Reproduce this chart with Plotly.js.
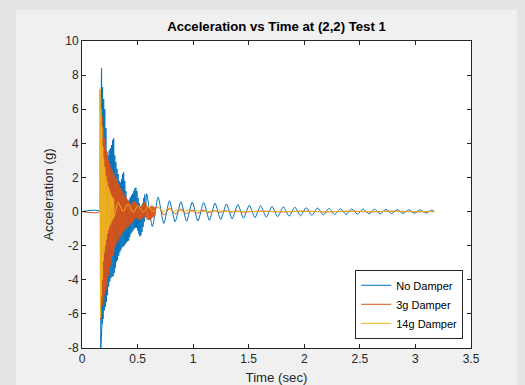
<!DOCTYPE html>
<html>
<head>
<meta charset="utf-8">
<script src="https://cdn.plot.ly/plotly-3.0.1.min.js"></script>
<style>
html,body{margin:0;padding:0;background:#f0f0f0;}
#chart{width:525px;height:385px;}
</style>
</head>
<body>
<div id="chart"></div>
<script>
// ---- Data ----
const seriesNames = ["No Damper", "3g Damper", "14g Damper"];

// No Damper: time (sec)
const tNoDamper = [
  0.000, 0.165, 0.168, 0.172, 0.176, 0.180, 0.185, 0.190, 0.195, 0.200,
  0.205, 0.210, 0.215, 0.220, 0.225, 0.230, 0.235, 0.240, 0.245, 0.250,
  0.255, 0.260, 0.265, 0.270, 0.275, 0.280, 0.285, 0.290, 0.295, 0.300,
  0.305, 0.310, 0.315, 0.320, 0.325, 0.330, 0.335, 0.340, 0.345, 0.350,
  0.355, 0.360, 0.365, 0.370, 0.375, 0.380, 0.385, 0.390, 0.395, 0.400,
  0.405, 0.410, 0.415, 0.420, 0.425, 0.430, 0.435, 0.440, 0.445, 0.450,
  0.455, 0.460, 0.465, 0.470, 0.475, 0.480, 0.485, 0.490, 0.495, 0.500,
  0.505, 0.510, 0.515, 0.520, 0.525, 0.530, 0.535, 0.540, 0.545, 0.550,
  0.555, 0.560, 0.565, 0.570,
  0.582, 0.633, 0.685, 0.736, 0.787, 0.838, 0.890, 0.941, 0.992, 1.043,
  1.095, 1.146, 1.197, 1.248, 1.300, 1.351, 1.402, 1.453, 1.505, 1.556,
  1.607, 1.658, 1.710, 1.761, 1.812, 1.863, 1.915, 1.966, 2.017, 2.068,
  2.120, 2.171, 2.222, 2.273, 2.325, 2.376, 2.427, 2.478, 2.530, 2.581,
  2.632, 2.683, 2.735, 2.786, 2.837, 2.888, 2.940, 2.991, 3.042, 3.093,
  3.145, 3.170
];
// No Damper: acceleration (g)
const aNoDamper = [
  0.00, 0.00, -8.30, 6.50, 8.40, -6.60, 7.30, -6.30, 6.60, -5.80,
  6.00, -5.60, 4.90, -5.30, 3.50, -4.90, 3.30, -4.40, 3.60, -4.10,
  3.70, -3.90, 3.90, -3.80, 4.20, -3.80, 4.30, -3.60, 3.30, -3.30,
  2.90, -2.95, 2.50, -2.85, 2.20, -2.60, 1.80, -2.40, 1.70, -2.25,
  1.90, -2.10, 2.20, -2.05, 2.30, -2.00, 1.80, -1.90, 1.20, -1.80,
  0.70, -1.75, 0.60, -1.70, 0.70, -1.50, 0.85, -1.30, 0.95, -1.20,
  1.05, -1.10, 1.20, -1.00, 1.35, -0.95, 1.40, -0.95, 1.20, -1.10,
  0.80, -1.30, 0.50, -1.45, 0.30, -1.40, 0.25, -1.20, 0.50, -0.90,
  0.80, -0.60, 1.00, -0.30,
  1.05, -0.88, 0.85, -0.70, 0.64, -0.60, 0.58, -0.57, 0.56, -0.55,
  0.53, -0.51, 0.49, -0.47, 0.45, -0.43, 0.41, -0.39, 0.37, -0.36,
  0.34, -0.33, 0.31, -0.30, 0.28, -0.27, 0.26, -0.25, 0.23, -0.22,
  0.21, -0.20, 0.19, -0.18, 0.17, -0.17, 0.16, -0.15, 0.15, -0.14,
  0.14, -0.13, 0.13, -0.12, 0.12, -0.11, 0.11, -0.10, 0.10, -0.09,
  0.08, 0.00
];

// 3g Damper
const t3g = [
  0.000, 0.160, 0.163, 0.167, 0.171, 0.175, 0.180, 0.185, 0.190, 0.195,
  0.200, 0.205, 0.210, 0.215, 0.220, 0.225, 0.230, 0.235, 0.240, 0.245,
  0.250, 0.255, 0.260, 0.265, 0.270, 0.275, 0.280, 0.285, 0.290, 0.295,
  0.300, 0.305, 0.310, 0.315, 0.320, 0.325, 0.330, 0.335, 0.340, 0.345,
  0.350, 0.355, 0.360, 0.365, 0.370, 0.375, 0.380, 0.385, 0.390, 0.395,
  0.400, 0.405, 0.410, 0.415, 0.420, 0.425, 0.430, 0.435, 0.440, 0.445,
  0.450, 0.455, 0.460, 0.465, 0.470, 0.475, 0.480, 0.485, 0.490, 0.495,
  0.500, 0.505, 0.510, 0.515, 0.520, 0.525, 0.530, 0.535, 0.540, 0.545,
  0.550, 0.555, 0.560, 0.565, 0.570, 0.575, 0.580, 0.585, 0.590, 0.595,
  0.600, 0.605, 0.610, 0.615, 0.620, 0.625, 0.630, 0.635, 0.640, 0.645,
  0.650, 0.655, 0.660,
  0.690, 0.740, 0.790, 0.840, 0.890, 0.940, 0.990, 1.040, 1.090, 1.140,
  1.190, 1.240, 1.290, 1.340, 1.390, 1.440,
  1.600, 1.800, 2.000, 2.200, 2.400, 2.600, 2.800, 3.000, 3.170
];
const a3g = [
  0.00, 0.00, 7.10, -6.30, 6.60, -5.90, 5.60, -5.50, 4.90, -5.20,
  4.30, -4.90, 3.90, -4.60, 3.60, -4.30, 3.30, -3.80, 3.00, -3.50,
  2.80, -3.20, 2.60, -2.90, 2.45, -2.60, 2.30, -2.40, 2.15, -2.10,
  2.00, -1.95, 1.90, -1.80, 1.75, -1.70, 1.60, -1.55, 1.45, -1.45,
  1.35, -1.35, 1.25, -1.25, 1.15, -1.15, 1.00, -1.10, 0.90, -1.00,
  0.80, -0.95, 0.70, -0.90, 0.60, -0.80, 0.50, -0.75, 0.40, -0.70,
  0.50, -0.60, 0.60, -0.50, 0.60, -0.45, 0.55, -0.40, 0.50, -0.40,
  0.40, -0.45, 0.30, -0.50, 0.25, -0.50, 0.30, -0.45, 0.40, -0.35,
  0.50, -0.30, 0.55, -0.30, 0.50, -0.35, 0.40, -0.45, 0.30, -0.50,
  0.20, -0.50, 0.25, -0.45, 0.30, -0.40, 0.35, -0.35, 0.30, -0.30,
  0.25, -0.25, 0.20,
  0.25, -0.20, 0.22, -0.15, 0.15, -0.12, 0.10, -0.10, 0.08, -0.07,
  0.06, -0.05, 0.05, -0.04, 0.04, -0.03,
  0.02, -0.02, 0.02, -0.02, 0.02, -0.02, 0.02, -0.02, 0.00
];

// 14g Damper
const t14g = [
  0.160, 0.163, 0.167, 0.171, 0.175, 0.179, 0.183, 0.187, 0.191, 0.195,
  0.200, 0.205, 0.210, 0.215, 0.220, 0.225, 0.230, 0.235, 0.240, 0.245,
  0.250, 0.255, 0.260, 0.265, 0.270, 0.275, 0.280, 0.285, 0.290,
  0.325, 0.370, 0.415, 0.460, 0.505, 0.550, 0.595, 0.640, 0.685, 0.730,
  0.775, 0.820, 0.865, 0.910, 0.955, 1.000, 1.045, 1.090,
  1.200, 1.400, 1.600, 1.800, 2.000, 2.200, 2.400, 2.600, 2.800, 3.000, 3.170
];
const a14g = [
  0.00, 7.20, -6.20, 6.00, -5.00, 5.00, -4.00, 3.80, -2.90, 3.10,
  -2.40, 2.60, -2.00, 2.10, -1.65, 1.80, -1.30, 1.50, -1.05, 1.30,
  -0.85, 1.10, -0.70, 0.95, -0.55, 0.85, -0.45, 0.75, -0.30,
  0.55, 0.00, 0.45, -0.05, 0.35, -0.05, 0.30, 0.00, 0.25, 0.00,
  0.18, 0.00, 0.12, -0.02, 0.08, -0.02, 0.06, -0.01,
  0.03, -0.01, 0.02, 0.00, 0.02, -0.01, 0.02, 0.00, 0.02, 0.00, 0.01
];

const xTickVals = [0, 0.5, 1, 1.5, 2, 2.5, 3, 3.5];
const xTickText = ["0", "0.5", "1", "1.5", "2", "2.5", "3", "3.5"];
const yTickVals = [-8, -6, -4, -2, 0, 2, 4, 6, 8, 10];
const yTickText = ["-8", "-6", "-4", "-2", "0", "2", "4", "6", "8", "10"];

// ---- Styling ----
const colors = ["#0072BD", "#D95319", "#EDB120"];
const FONT = "Liberation Sans, Arial, Helvetica, sans-serif";
const INK = "#262626";

const traces = [
  {x: tNoDamper, y: aNoDamper, name: seriesNames[0]},
  {x: t3g, y: a3g, name: seriesNames[1]},
  {x: t14g, y: a14g, name: seriesNames[2]}
].map((tr, i) => Object.assign(tr, {
  type: "scatter", mode: "lines",
  line: {color: colors[i], width: 1, shape: "spline", smoothing: 0.6},
  hoverinfo: "skip"
}));

const axisCommon = {
  showline: true, linecolor: INK, linewidth: 1, mirror: "ticks",
  ticks: "inside", ticklen: 4, tickwidth: 1, tickcolor: INK,
  showgrid: false, zeroline: false,
  tickfont: {family: FONT, size: 12, color: INK},
  tickmode: "array"
};

const layout = {
  width: 525, height: 385,
  margin: {l: 82, r: 54, t: 41, b: 37, pad: 0},
  paper_bgcolor: "#f0f0f0",
  plot_bgcolor: "#ffffff",
  showlegend: true,
  title: {
    text: "<b>Acceleration vs Time at (2,2) Test 1</b>",
    font: {family: FONT, size: 13.2, color: "#000000"},
    x: 0.5, xref: "paper", xanchor: "center",
    y: 0.932, yref: "container", yanchor: "middle"
  },
  xaxis: Object.assign({}, axisCommon, {
    range: [0, 3.5], tickvals: xTickVals, ticktext: xTickText,
    title: {text: "Time (sec)", font: {family: FONT, size: 13.2, color: INK}, standoff: 9}
  }),
  yaxis: Object.assign({}, axisCommon, {
    range: [-8, 10], tickvals: yTickVals, ticktext: yTickText,
    title: {text: "Acceleration (g)", font: {family: FONT, size: 13.2, color: INK}, standoff: 8}
  }),
  legend: {
    x: 0.98, xanchor: "right", y: 0.03, yanchor: "bottom",
    bgcolor: "#ffffff", bordercolor: INK, borderwidth: 1,
    font: {family: FONT, size: 11, color: "#000000"},
    itemwidth: 30, tracegroupgap: 0
  },
  shapes: [
    {type: "rect", xref: "paper", yref: "paper", x0: -0.215, x1: -0.1697, y0: -0.13, y1: 1.14,
     fillcolor: "#e4e4e4", line: {width: 0}, layer: "below"},
    {type: "rect", xref: "paper", yref: "paper", x0: -0.215, x1: 1.145, y0: 1.101, y1: 1.14,
     fillcolor: "#e4e4e4", line: {width: 0}, layer: "below"},
    {type: "rect", xref: "paper", yref: "paper", x0: 1.1183, x1: 1.145, y0: -0.13, y1: 1.14,
     fillcolor: "#e4e4e4", line: {width: 0}, layer: "below"}
  ]
};

Plotly.newPlot("chart", traces, layout, {staticPlot: true, displayModeBar: false});
</script>
</body>
</html>
